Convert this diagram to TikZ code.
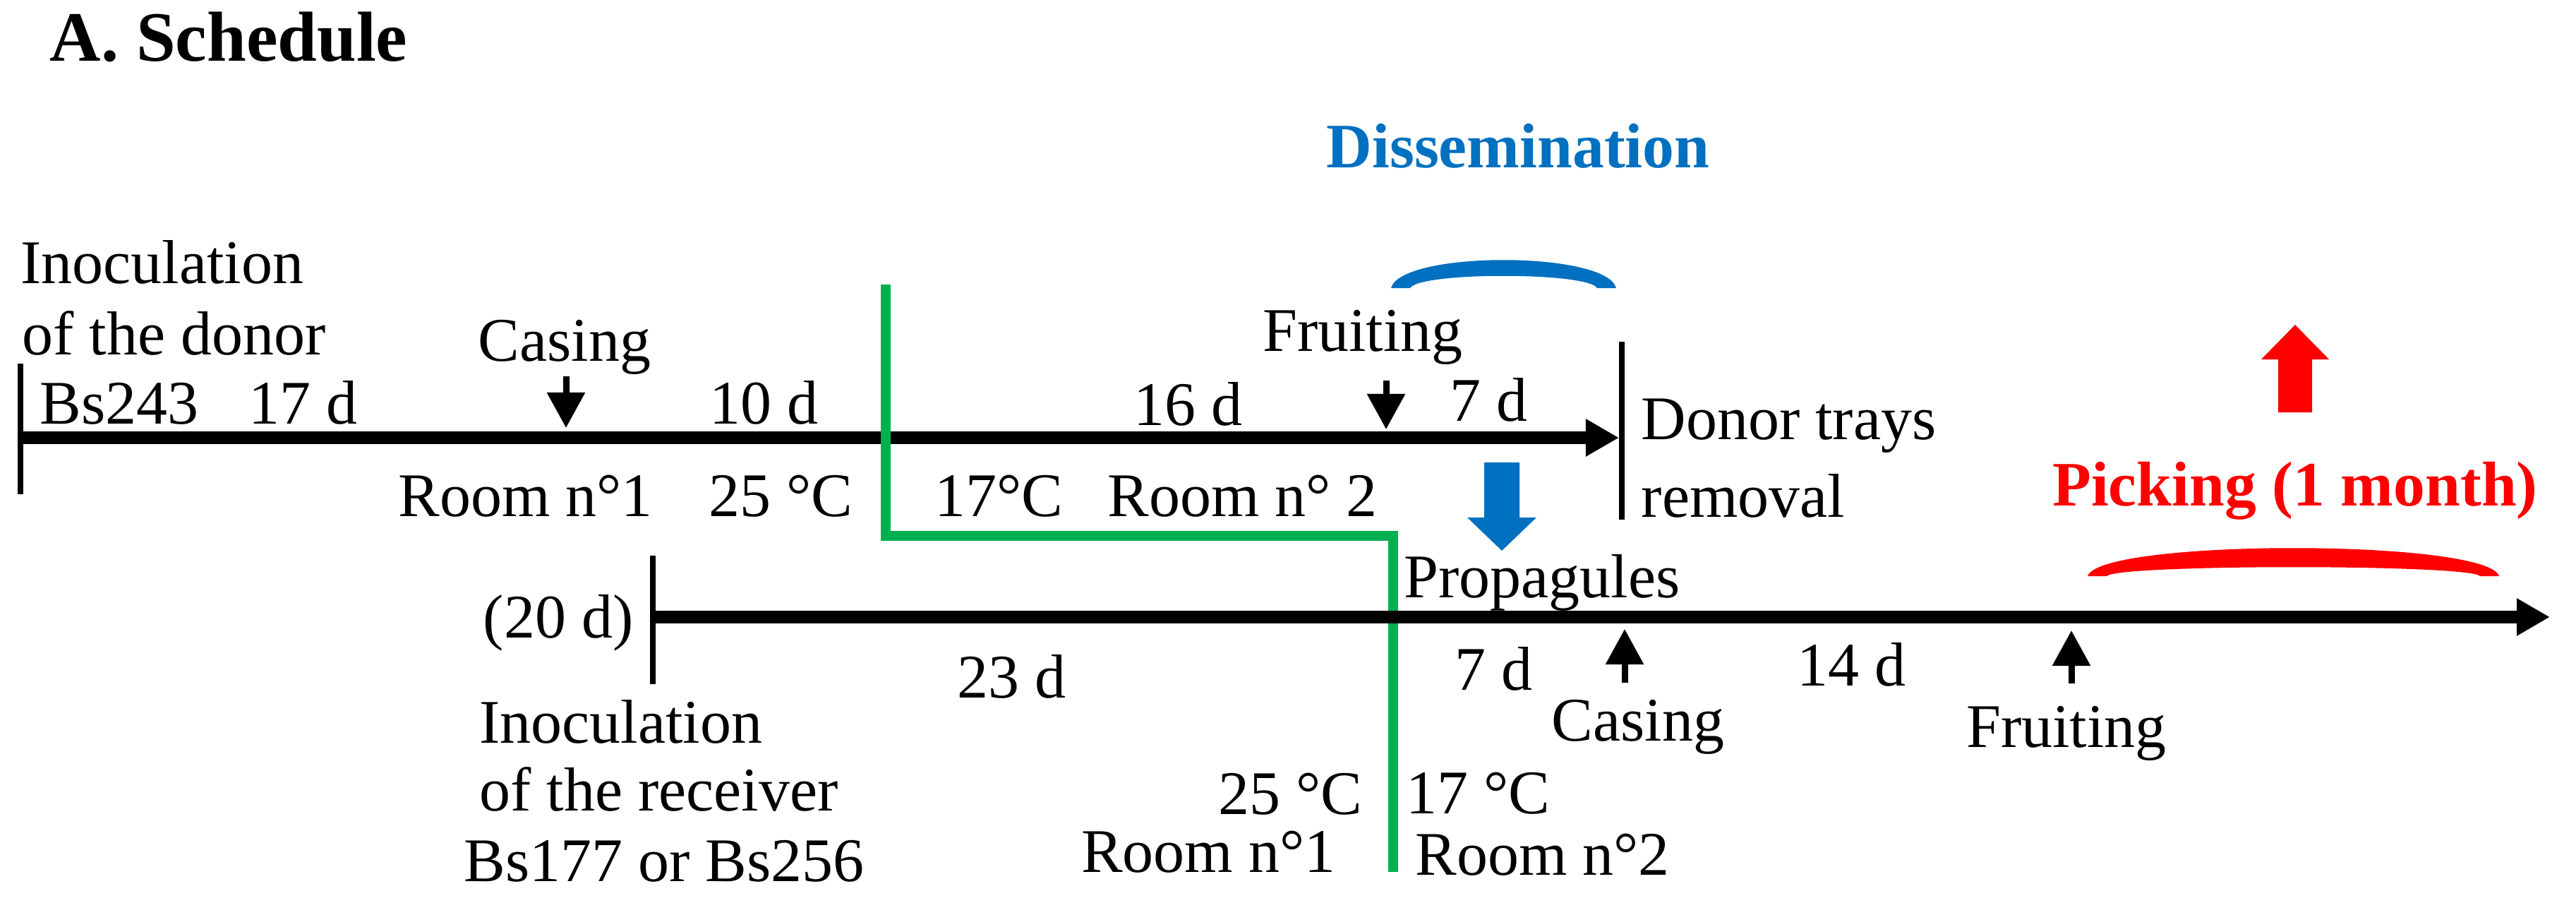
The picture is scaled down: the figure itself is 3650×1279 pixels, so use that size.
\documentclass[tikz,border=0pt]{standalone}
\usepackage{fontspec}
\setmainfont{Liberation Serif}
\usetikzlibrary{arrows.meta}
\definecolor{dblue}{HTML}{0070C0}
\definecolor{dred}{HTML}{FF0000}
\definecolor{dgreen}{HTML}{00B050}
\tikzset{
  txt/.style={inner sep=0pt, font=\fontsize{25}{30}\selectfont},
  btxt/.style={inner sep=0pt, font=\fontsize{25.5}{30}\selectfont\bfseries},
  tline/.style={line width=0.17cm, -{Triangle[length=0.47cm,width=0.5cm]}},
  tick/.style={line width=0.075cm},
  evarrow/.style={line width=0.09cm, -{Triangle[length=0.5cm,width=0.52cm]}},
  roomline/.style={dgreen, line width=0.14cm, line join=miter},
}
\begin{document}
\begin{tikzpicture}[x=0.01cm,y=-0.01cm]
\useasboundingbox (0,0) rectangle (3650,1279);
% title
\node[inner sep=0pt, anchor=base west, font=\fontsize{28.5}{32}\selectfont\bfseries] (title) at (70,87) {A. Schedule};
\node[btxt, text=dblue, anchor=base] (dis) at (2151,238) {Dissemination};
% donor timeline
\coordinate (d0) at (29,620);
\coordinate (d1) at (2294,620);
\coordinate (dt0) at (29,515);
\coordinate (dt1) at (29,700);
\draw[tick] (dt0) -- (dt1);
\draw[tline] (d0) -- (d1);
\coordinate (rm0) at (2298,484);
\coordinate (rm1) at (2298,736);
\draw[tick] (rm0) -- (rm1);
\node[txt, anchor=base west] (inoc1) at (29,401) {Inoculation};
\node[txt, anchor=base west] (inoc2) at (31,502) {of the donor};
\node[txt, anchor=base west] (bs243) at (56,600) {Bs243};
\node[txt, anchor=base west] (d17) at (352,600) {17 d};
\node[txt, anchor=base] (cas1) at (800,511) {Casing};
\coordinate (ca0) at (802,533);
\coordinate (ca1) at (802,606);
\draw[evarrow] (ca0) -- (ca1);
\node[txt, anchor=base west] (d10) at (1005,600) {10 d};
\node[txt, anchor=base west] (d16) at (1606,602) {16 d};
\node[txt, anchor=base] (fr1) at (1931,497) {Fruiting};
\coordinate (fa0) at (1964,539);
\coordinate (fa1) at (1964,608);
\draw[evarrow] (fa0) -- (fa1);
\node[txt, anchor=base west] (d7a) at (2054,596) {7 d};
\node[txt, anchor=base west] (donor) at (2325,622) {Donor trays};
\node[txt, anchor=base west] (remov) at (2325,732) {removal};
\node[txt, anchor=base west] (room1a) at (564,731) {Room n°1};
\node[txt, anchor=base west] (t25a) at (1004,731) {25 °C};
\node[txt, anchor=base west] (t17a) at (1324,731) {17°C};
\node[txt, anchor=base west] (room2a) at (1569,731) {Room n° 2};
% room separation line
\coordinate (g0) at (1255,403);
\coordinate (g1) at (1255,759);
\coordinate (g2) at (1974,759);
\coordinate (g3) at (1974,1235);
\draw[roomline] (g0) -- (g1) -- (g2) -- (g3);
% blue arc and arrow
\fill[dblue] (1971,408) .. controls (1985,355) and (2276,355) .. (2290,408)
  -- (2263,408) .. controls (2250,385) and (2011,385) .. (1998,408) -- cycle;
\fill[dblue] (2103,655) -- (2153,655) -- (2153,733) -- (2177,733) -- (2128,780)
  -- (2079,733) -- (2103,733) -- cycle;
% red arc and arrow
\fill[dred] (2958,816) .. controls (2975,763) and (3524,763) .. (3541,816)
  -- (3514,816) .. controls (3500,799) and (3000,799) .. (2985,816) -- cycle;
\fill[dred] (3228,584) -- (3276,584) -- (3276,509) -- (3300,509) -- (3252,460)
  -- (3204,509) -- (3228,509) -- cycle;
\node[btxt, text=dred, anchor=base] (pick) at (3252,716) {Picking (1 month)};
% receiver timeline
\node[txt, anchor=base west] (prop) at (1989,846) {Propagules};
\node[txt, anchor=base east] (d20) at (898,903) {(20 d)};
\coordinate (rt0) at (925,787);
\coordinate (rt1) at (925,969);
\draw[tick] (rt0) -- (rt1);
\coordinate (r0) at (925,874);
\coordinate (r1) at (3613,874);
\draw[tline] (r0) -- (r1);
\node[txt, anchor=base west] (d23) at (1356,988) {23 d};
\node[txt, anchor=base west] (d7b) at (2061,977) {7 d};
\coordinate (cb0) at (2302,967);
\coordinate (cb1) at (2302,891);
\draw[evarrow] (cb0) -- (cb1);
\node[txt, anchor=base] (cas2) at (2321,1049) {Casing};
\node[txt, anchor=base west] (d14) at (2546,971) {14 d};
\coordinate (fb0) at (2935,968);
\coordinate (fb1) at (2935,893);
\draw[evarrow] (fb0) -- (fb1);
\node[txt, anchor=base] (fr2) at (2928,1058) {Fruiting};
\node[txt, anchor=base west] (inoc3) at (679,1052) {Inoculation};
\node[txt, anchor=base west] (inoc4) at (679,1148) {of the receiver};
\node[txt, anchor=base west] (inoc5) at (657,1248) {Bs177 or Bs256};
\node[txt, anchor=base east] (t25b) at (1931,1153) {25 °C};
\node[txt, anchor=base east] (room1b) at (1893,1235) {Room n°1};
\node[txt, anchor=base west] (t17b) at (1992,1152) {17 °C};
\node[txt, anchor=base west] (room2b) at (2005,1239) {Room n°2};
\end{tikzpicture}
\end{document}
